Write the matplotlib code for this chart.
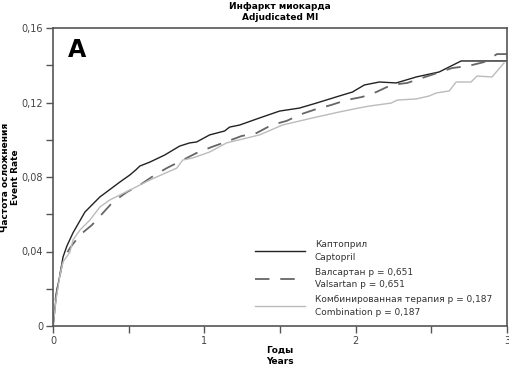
import matplotlib
matplotlib.use('Agg')
import matplotlib.pyplot as plt
from matplotlib.ticker import MultipleLocator, FuncFormatter

# Каптоприл / Captopril
cap_x = [0, 0.026, 0.046, 0.066, 0.092, 0.132, 0.211, 0.31, 0.442, 0.508, 0.547, 0.574, 0.64,
         0.738, 0.837, 0.903, 0.949, 1.035, 1.134, 1.167, 1.233, 1.365, 1.497, 1.628, 1.741,
         1.892, 1.978, 2.057, 2.156, 2.268, 2.4, 2.552, 2.697, 2.848, 3.0]
cap_y = [0, 0.0193, 0.0274, 0.037, 0.043, 0.05, 0.0612, 0.0693, 0.0773, 0.0811, 0.0838, 0.0859, 0.088,
         0.0918, 0.0966, 0.0983, 0.0988, 0.1026, 0.1047, 0.1068, 0.1079, 0.1117, 0.1154, 0.117, 0.1197,
         0.1235, 0.1256, 0.1294, 0.131, 0.1305, 0.1337, 0.1364, 0.1423, 0.1423, 0.1423]

# Валсартан / Valsartan
val_x = [0, 0.02, 0.046, 0.066, 0.112, 0.178, 0.257, 0.33, 0.396, 0.488, 0.574, 0.673, 0.752, 0.857,
         0.949, 1.048, 1.141, 1.246, 1.345, 1.444, 1.543, 1.642, 1.741, 1.84, 1.938, 2.044, 2.136,
         2.235, 2.341, 2.44, 2.538, 2.637, 2.743, 2.848, 2.934, 3.0]
val_y = [0, 0.0166, 0.0274, 0.0354, 0.0419, 0.0489, 0.0542, 0.0607, 0.0666, 0.0719, 0.0757, 0.0811,
         0.0848, 0.0891, 0.0929, 0.0961, 0.0988, 0.102, 0.1036, 0.1079, 0.1101, 0.1138, 0.1165, 0.1187,
         0.1213, 0.123, 0.1256, 0.1294, 0.1305, 0.1332, 0.1358, 0.1385, 0.1396, 0.1417, 0.146, 0.146]

# Комбинированная терапия / Combination
comb_x = [0, 0.02, 0.046, 0.066, 0.112, 0.132, 0.178, 0.244, 0.31, 0.376, 0.508, 0.64, 0.818, 0.857,
          0.923, 1.035, 1.147, 1.365, 1.516, 1.741, 1.892, 2.024, 2.09, 2.235, 2.275, 2.4, 2.486,
          2.532, 2.618, 2.664, 2.762, 2.802, 2.901, 2.98]
comb_y = [0, 0.014, 0.0274, 0.0344, 0.0397, 0.0462, 0.0515, 0.0569, 0.0639, 0.0677, 0.073, 0.0784,
          0.0848, 0.0891, 0.0902, 0.0934, 0.0983, 0.1026, 0.1079, 0.1122, 0.1149, 0.1171, 0.1181,
          0.1197, 0.1213, 0.1219, 0.1235, 0.1251, 0.1262, 0.131, 0.131, 0.1342, 0.1337, 0.1412]

labels = ['Каптоприл\nCaptopril',
          'Валсартан p = 0,651\nValsartan p = 0,651',
          'Комбинированная терапия p = 0,187\nCombination p = 0,187']

plt.rcParams['font.family'] = ['DejaVu Sans']
W, H = 510, 368
fig = plt.figure(figsize=(5.1, 3.68), dpi=100)
ax = fig.add_axes([53 / W, 42 / H, 454 / W, 298 / H])

styles = [dict(color='#222222', lw=1.0),
          dict(color='#666666', lw=1.3, dashes=(8, 6)),
          dict(color='#bbbbbb', lw=1.0)]

for xs, ys, st in zip([cap_x, val_x, comb_x], [cap_y, val_y, comb_y], styles):
    ax.plot(xs, ys, **st)

ax.set_xlim(0, 3)
ax.set_ylim(0, 0.16)
ax.xaxis.set_major_locator(MultipleLocator(1))
ax.xaxis.set_minor_locator(MultipleLocator(0.5))
ax.yaxis.set_major_locator(MultipleLocator(0.04))
ax.yaxis.set_minor_locator(MultipleLocator(0.02))
ax.yaxis.set_major_formatter(FuncFormatter(lambda v, p: '0' if v == 0 else ('%.2f' % v).replace('.', ',')))
ax.xaxis.set_major_formatter(FuncFormatter(lambda v, p: '%d' % v))
ax.tick_params(which='both', direction='out', length=5, width=1, color='#555555',
               labelsize=7, labelcolor='#444444', pad=2)
for s in ax.spines.values():
    s.set_color('#555555')
    s.set_linewidth(1.2)

ax.text(0.033, 0.965, 'A', transform=ax.transAxes, fontsize=17, fontweight='bold', va='top')

# заголовок и подписи осей
fig.text(280 / W, 1 - 12 / H, 'Инфаркт миокарда\nAdjudicated MI', ha='center', va='center',
         fontsize=6.5, fontweight='bold', linespacing=1.3)
fig.text(280 / W, 1 - 356 / H, 'Годы\nYears', ha='center', va='center',
         fontsize=6.5, fontweight='bold', linespacing=1.3)
ax.set_ylabel('Частота осложнения\nEvent Rate', fontsize=6.5, fontweight='bold', labelpad=1, linespacing=1.25)

# легенда вручную (в координатах осей), чтобы выдержать межстрочный интервал
for i, (lab, st) in enumerate(zip(labels, styles)):
    yc = (326 - (251 + 27.5 * i)) / 298
    ax.plot([(255 - 53) / 454, (305 - 53) / 454], [yc, yc], transform=ax.transAxes, **st)
    ax.text((315 - 53) / 454, yc, lab, transform=ax.transAxes, ha='left', va='center',
            fontsize=6.5, color='#333333', linespacing=1.55)

fig.savefig('out.png', dpi=100)
